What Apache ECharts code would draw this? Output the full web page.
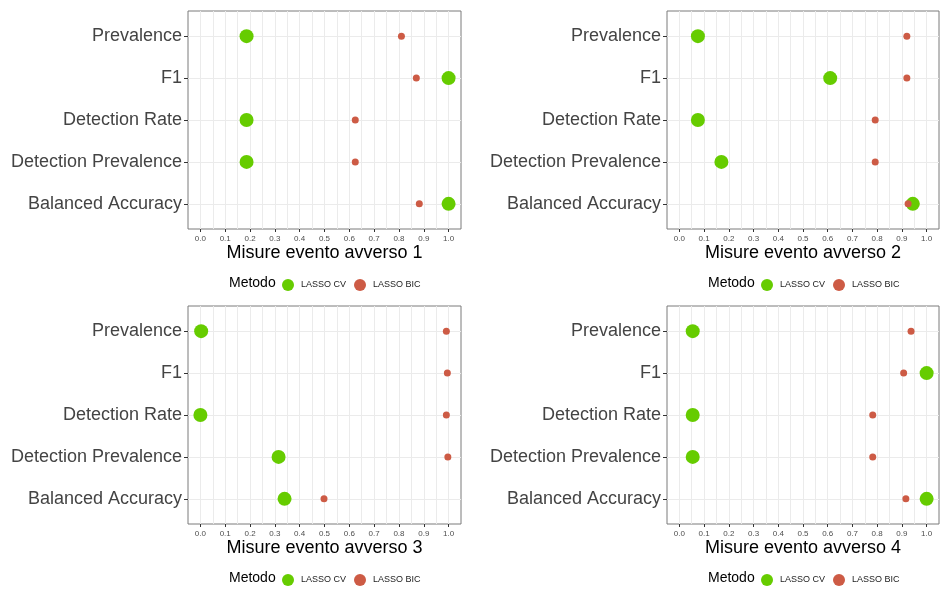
<!DOCTYPE html>
<html>
<head>
<meta charset="utf-8">
<script src="https://cdn.jsdelivr.net/npm/echarts@6/dist/echarts.min.js"></script>
<style>html,body{margin:0;padding:0;background:#fff}#c{width:941px;height:592px}</style>
</head>
<body>
<div id="c"></div>
<script>
const categories = ['Prevalence', 'F1', 'Detection Rate', 'Detection Prevalence', 'Balanced Accuracy'];
const xTicks = [0, 0.1, 0.2, 0.3, 0.4, 0.5, 0.6, 0.7, 0.8, 0.9, 1.0];
const xGridLines = [0, 0.05, 0.1, 0.15, 0.2, 0.25, 0.3, 0.35, 0.4, 0.45, 0.5, 0.55, 0.6, 0.65, 0.7, 0.75, 0.8, 0.85, 0.9, 0.95, 1.0];
const panelTitles = ['Misure evento avverso 1', 'Misure evento avverso 2', 'Misure evento avverso 3', 'Misure evento avverso 4'];
const methods = ['LASSO CV', 'LASSO BIC'];

const cv1 = [0.186, 1.0, 0.186, 0.186, 1.0];
const bic1 = [0.81, 0.87, 0.624, 0.624, 0.882];
const cv2 = [0.075, 0.61, 0.075, 0.17, 0.944];
const bic2 = [0.92, 0.92, 0.792, 0.792, 0.925];
const cv3 = [0.003, null, 0.0, 0.315, 0.339];
const bic3 = [0.991, 0.995, 0.991, 0.997, 0.498];
const cv4 = [0.054, 1.0, 0.054, 0.054, 1.0];
const bic4 = [0.937, 0.907, 0.782, 0.782, 0.916];

const cvAll = [cv1, cv2, cv3, cv4];
const bicAll = [bic1, bic2, bic3, bic4];

const GREEN = '#66CC00';
const RED = '#CD5B45';
const FONT = 'Liberation Sans, Arial, sans-serif';

const grids = [
  {left: 188, top: 11, width: 273, height: 218},
  {left: 667, top: 11, width: 272, height: 218},
  {left: 188, top: 306, width: 273, height: 218},
  {left: 667, top: 306, width: 272, height: 218}
];

const nCat = categories.length;
function toPoints(arr) {
  const out = [];
  arr.forEach((v, i) => { if (v !== null) out.push([v, nCat - i]); });
  return out;
}
const yPos = categories.map((c, i) => nCat - i);

const option = {
  animation: false,
  backgroundColor: '#fff',
  grid: grids.map(g => Object.assign({show: true, borderColor: '#7a7a7a', borderWidth: 1, backgroundColor: '#fff'}, g)),
  xAxis: [],
  yAxis: [],
  series: [],
  legend: [],
  graphic: []
};

grids.forEach((g, p) => {
  option.xAxis.push({
    type: 'value', gridIndex: p, min: -0.05, max: 1.05, position: 'bottom',
    axisLine: {show: false, onZero: false},
    axisTick: {show: false, customValues: xGridLines},
    axisLabel: {show: false, customValues: xGridLines},
    splitLine: {show: true, lineStyle: {color: '#EBEBEB', width: 1}}
  });
  option.xAxis.push({
    type: 'value', gridIndex: p, min: -0.05, max: 1.05, position: 'bottom',
    axisLine: {show: false, onZero: false},
    axisTick: {show: true, length: 3, customValues: xTicks, lineStyle: {color: '#333'}},
    axisLabel: {show: true, customValues: xTicks, margin: 6, fontSize: 8, color: '#4D4D4D', fontFamily: FONT,
      formatter: v => v.toFixed(1)},
    splitLine: {show: false},
    name: panelTitles[p], nameLocation: 'middle', nameGap: 12,
    nameTextStyle: {fontSize: 18, color: '#000', fontFamily: FONT, verticalAlign: 'top'}
  });
  option.yAxis.push({
    type: 'value', gridIndex: p, min: 0.4, max: 5.6, position: 'left',
    axisLine: {show: false, onZero: false},
    axisTick: {show: true, length: 4, customValues: yPos, lineStyle: {color: '#333'}},
    axisLabel: {show: true, customValues: yPos, margin: 6, fontSize: 18, color: '#444', fontFamily: FONT,
      formatter: v => categories[nCat - Math.round(v)]},
    splitLine: {show: true, lineStyle: {color: '#EBEBEB', width: 1}}
  });
  option.series.push({
    name: methods[0], type: 'scatter', xAxisIndex: p * 2, yAxisIndex: p,
    symbol: 'circle', symbolSize: 14, itemStyle: {color: GREEN, opacity: 1},
    data: toPoints(cvAll[p]), z: 3
  });
  option.series.push({
    name: methods[1], type: 'scatter', xAxisIndex: p * 2, yAxisIndex: p,
    symbol: 'circle', symbolSize: 7, itemStyle: {color: RED, opacity: 1},
    data: toPoints(bicAll[p]), z: 4
  });
  const lx = g.left + 89;
  const ly = g.top + 273;
  option.legend.push({
    data: methods.map(m => ({name: m, icon: 'circle'})),
    left: lx, top: ly - 10, itemWidth: 12, itemHeight: 12, itemGap: 8,
    textStyle: {fontSize: 9, color: '#222', fontFamily: FONT, padding: [0, 0, 0, 2]},
    selectedMode: false
  });
  option.graphic.push({
    type: 'text', left: g.left + 41, top: ly - 8,
    style: {text: 'Metodo', fontSize: 14, fill: '#000', fontFamily: FONT}
  });
});

const chart = echarts.init(document.getElementById('c'), null, {renderer: 'canvas'});
chart.setOption(option);
</script>
</body>
</html>
